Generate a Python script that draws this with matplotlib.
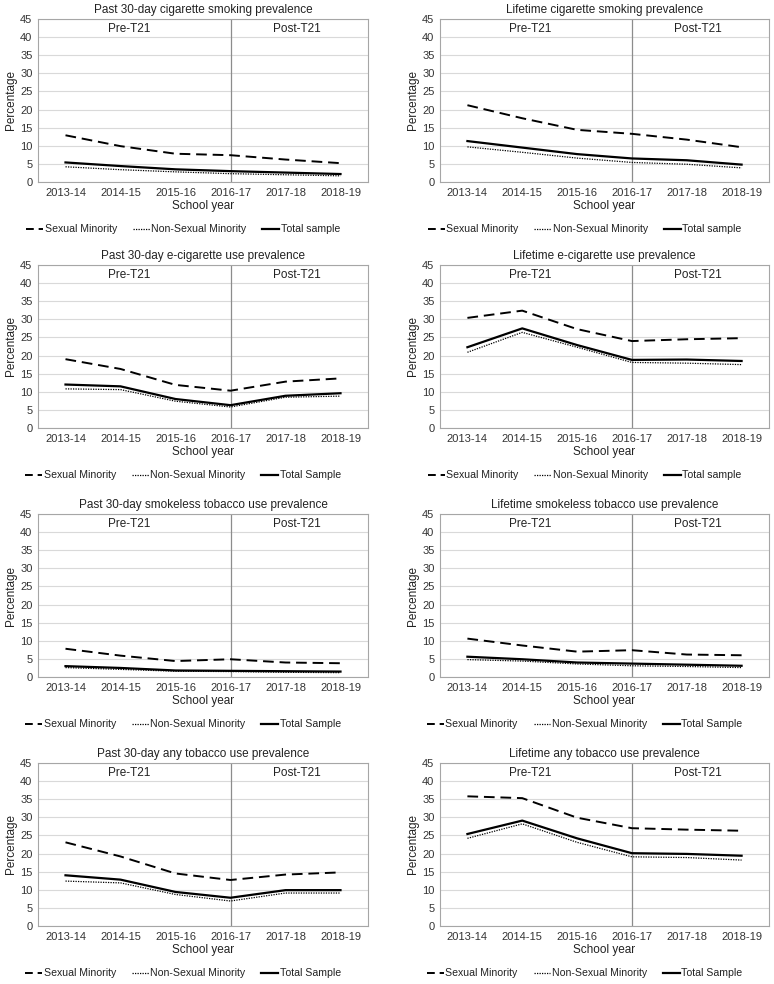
import matplotlib
matplotlib.use("Agg")
import matplotlib.pyplot as plt
from matplotlib.lines import Line2D

plt.rcParams['font.family'] = ['Liberation Sans', 'DejaVu Sans']

years = ["2013-14", "2014-15", "2015-16", "2016-17", "2017-18", "2018-19"]
yticks = [0, 5, 10, 15, 20, 25, 30, 35, 40, 45]

titles = [
    "Past 30-day cigarette smoking prevalence",
    "Lifetime cigarette smoking prevalence",
    "Past 30-day e-cigarette use prevalence",
    "Lifetime e-cigarette use prevalence",
    "Past 30-day smokeless tobacco use prevalence",
    "Lifetime smokeless tobacco use prevalence",
    "Past 30-day any tobacco use prevalence",
    "Lifetime any tobacco use prevalence",
]
total_labels = ["Total sample", "Total sample", "Total Sample", "Total sample",
                "Total Sample", "Total Sample", "Total Sample", "Total Sample"]

sm_cig30 = [12.9, 9.9, 7.8, 7.4, 6.2, 5.2]
nsm_cig30 = [4.2, 3.4, 2.8, 2.3, 2.0, 1.7]
tot_cig30 = [5.4, 4.4, 3.5, 3.0, 2.6, 2.2]

sm_cigL = [21.2, 17.6, 14.4, 13.3, 11.7, 9.6]
nsm_cigL = [9.7, 8.2, 6.6, 5.4, 4.9, 3.9]
tot_cigL = [11.3, 9.5, 7.7, 6.5, 6.0, 4.8]

sm_ecig30 = [19.0, 16.3, 11.9, 10.3, 12.8, 13.7]
nsm_ecig30 = [10.8, 10.6, 7.4, 5.8, 8.5, 8.8]
tot_ecig30 = [12.0, 11.5, 8.0, 6.3, 8.9, 9.6]

sm_ecigL = [30.4, 32.4, 27.3, 24.0, 24.5, 24.8]
nsm_ecigL = [20.9, 26.4, 22.3, 18.1, 17.9, 17.5]
tot_ecigL = [22.3, 27.5, 22.9, 18.8, 18.9, 18.5]

sm_slt30 = [7.8, 5.9, 4.4, 4.9, 4.0, 3.8]
nsm_slt30 = [2.6, 2.1, 1.6, 1.5, 1.3, 1.2]
tot_slt30 = [3.0, 2.5, 1.8, 1.7, 1.6, 1.5]

sm_sltL = [10.6, 8.7, 7.0, 7.4, 6.2, 6.0]
nsm_sltL = [4.8, 4.4, 3.6, 3.1, 2.9, 2.6]
tot_sltL = [5.6, 4.9, 4.0, 3.7, 3.4, 3.1]

sm_any30 = [23.1, 19.2, 14.5, 12.7, 14.2, 14.8]
nsm_any30 = [12.4, 11.9, 8.7, 6.9, 9.1, 9.1]
tot_any30 = [14.0, 12.8, 9.4, 7.8, 9.9, 9.9]

sm_anyL = [35.8, 35.3, 29.9, 27.0, 26.6, 26.3]
nsm_anyL = [24.2, 28.2, 23.1, 19.1, 18.9, 18.2]
tot_anyL = [25.4, 29.1, 24.2, 20.1, 19.9, 19.4]

panels = [
    (sm_cig30, nsm_cig30, tot_cig30),
    (sm_cigL, nsm_cigL, tot_cigL),
    (sm_ecig30, nsm_ecig30, tot_ecig30),
    (sm_ecigL, nsm_ecigL, tot_ecigL),
    (sm_slt30, nsm_slt30, tot_slt30),
    (sm_sltL, nsm_sltL, tot_sltL),
    (sm_any30, nsm_any30, tot_any30),
    (sm_anyL, nsm_anyL, tot_anyL),
]

W, H = 774, 984
fig = plt.figure(figsize=(W / 100, H / 100), dpi=100)

row_tops = [19, 265, 514, 763]
ax_h = 163
col_x = [(38, 368), (440, 769)]

DASH = (0, (5.5, 3))
DASH_LEG = (0, (4, 2.5))
DOT = (0, (1, 1))

x = list(range(len(years)))
for i, (sm, nsm, tot) in enumerate(panels):
    r, c = divmod(i, 2)
    x0, x1 = col_x[c]
    top = row_tops[r]
    ax = fig.add_axes([x0 / W, 1 - (top + ax_h) / H, (x1 - x0) / W, ax_h / H])
    ax.set_xlim(-0.5, 5.5)
    ax.set_ylim(0, 45)
    ax.set_yticks(yticks)
    ax.set_xticks(x)
    ax.set_xticklabels(years)
    ax.grid(axis='y', color='#d9d9d9', linewidth=0.8)
    ax.set_axisbelow(True)
    for s in ax.spines.values():
        s.set_color('#a6a6a6')
        s.set_linewidth(0.8)
    ax.tick_params(length=0, labelsize=8, colors='#333333', pad=4)
    ax.axvline(3, color='#8c8c8c', linewidth=0.9, zorder=1)
    ax.plot(x, sm, color='black', linestyle=DASH, linewidth=1.4, zorder=3)
    ax.plot(x, nsm, color='black', linestyle=DOT, linewidth=0.9, zorder=3)
    ax.plot(x, tot, color='black', linestyle='-', linewidth=1.6, zorder=3)
    ax.text(1.15, 42.3, "Pre-T21", ha='center', va='center', fontsize=8.5, color='#222222')
    ax.text(4.2, 42.3, "Post-T21", ha='center', va='center', fontsize=8.5, color='#222222')
    ax.set_title(titles[i], fontsize=8.5, pad=4, color='#222222')
    ax.set_xlabel("School year", fontsize=8.5, labelpad=2, color='#222222')
    ax.set_ylabel("Percentage", fontsize=8.5, labelpad=2, color='#222222')
    handles = [
        Line2D([], [], color='black', linestyle=DASH_LEG, linewidth=1.4),
        Line2D([], [], color='black', linestyle=DOT, linewidth=0.9),
        Line2D([], [], color='black', linestyle='-', linewidth=1.6),
    ]
    labels = ["Sexual Minority", "Non-Sexual Minority", total_labels[i]]
    leg = ax.legend(handles, labels, loc='center', bbox_to_anchor=(0.44, -0.29),
                    ncol=3, frameon=False, fontsize=7.6, handlelength=1.6,
                    handletextpad=0.15, columnspacing=1.5)
    for t in leg.get_texts():
        t.set_color('#222222')

fig.savefig("out.png", dpi=100, facecolor='white')
